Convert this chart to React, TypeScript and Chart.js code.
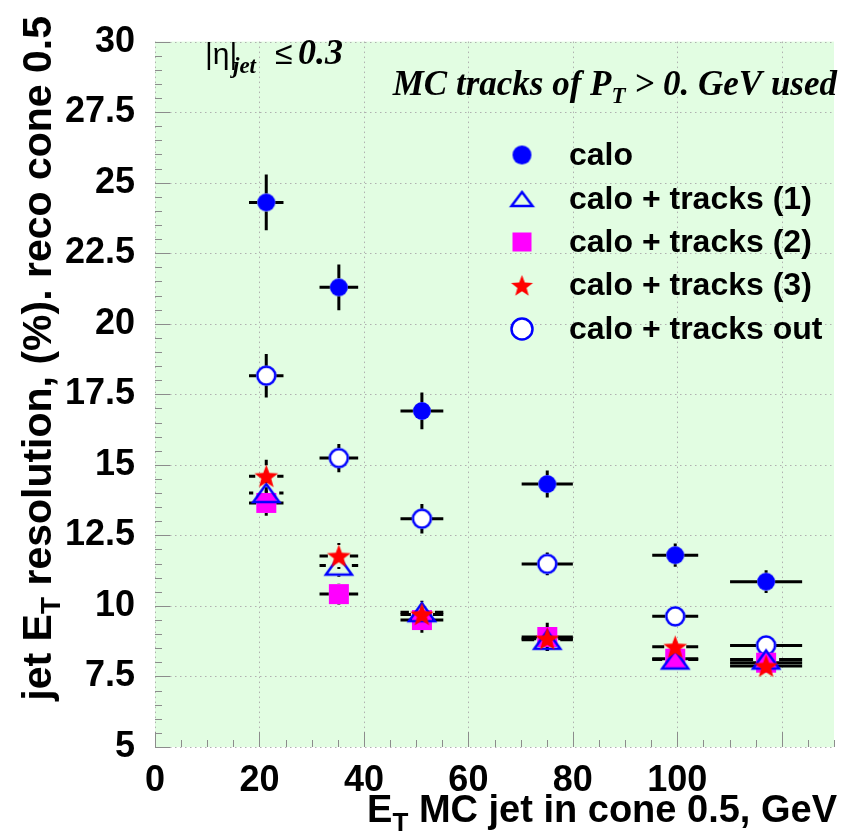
import React, { useEffect, useRef } from "react";
import { Chart, registerables } from "chart.js";

Chart.register(...registerables);

// ---------- data ----------
const energies = [21.3, 35.2, 51.1, 75.1, 99.6, 117.0];
const energyErr = [3.3, 3.7, 4.1, 4.9, 4.4, 6.9];

const calo = [24.3, 21.29, 16.91, 14.32, 11.8, 10.86];
const caloErr = [0.99, 0.81, 0.65, 0.48, 0.41, 0.4];

const tracks1 = [14.0, 11.43, 9.78, 8.8, 8.1, 8.1];
const tracks1Err = [0.5, 0.4, 0.4, 0.4, 0.3, 0.3];

const tracks2 = [13.65, 10.42, 9.5, 8.9, 8.13, 7.99];
const tracks2Err = [0.45, 0.37, 0.45, 0.5, 0.3, 0.3];

const tracks3 = [14.6, 11.77, 9.7, 8.84, 8.55, 7.87];
const tracks3Err = [0.58, 0.46, 0.4, 0.4, 0.3, 0.3];

const tracksOut = [18.16, 15.24, 13.09, 11.49, 9.63, 8.6];
const tracksOutErr = [0.77, 0.5, 0.52, 0.4, 0.3, 0.3];

const legendLabels = [
  "calo",
  "calo + tracks (1)",
  "calo + tracks (2)",
  "calo + tracks (3)",
  "calo + tracks out",
];

const X_MIN = 0;
const X_MAX = 130;
const X_STEP = 20;
const X_MINOR = 5;
const Y_MIN = 5;
const Y_MAX = 30;
const Y_STEP = 2.5;
const Y_MINOR = 0.5;

// ---------- styles ----------
const BG = "rgb(226,253,226)";
const BLUE = "#0000ff";
const MAGENTA = "#ff00ff";
const RED = "#ff0000";
const SANS = "'Liberation Sans', Arial, Helvetica, sans-serif";
const SERIF = "'Liberation Serif', 'Times New Roman', Times, serif";

function makeCanvas(w: number, h: number, draw: (ctx: CanvasRenderingContext2D, w: number, h: number) => void) {
  const c = document.createElement("canvas");
  c.width = w;
  c.height = h;
  const ctx = c.getContext("2d")!;
  draw(ctx, w, h);
  return c;
}

function filledCircle(r: number) {
  return makeCanvas(2 * r + 2, 2 * r + 2, (ctx, w, h) => {
    ctx.fillStyle = BLUE;
    ctx.beginPath();
    ctx.arc(w / 2, h / 2, r, 0, Math.PI * 2);
    ctx.fill();
  });
}

function openCircle(r: number, lw: number) {
  const s = Math.ceil(2 * r + lw + 2);
  return makeCanvas(s, s, (ctx, w, h) => {
    ctx.fillStyle = "#ffffff";
    ctx.strokeStyle = BLUE;
    ctx.lineWidth = lw;
    ctx.beginPath();
    ctx.arc(w / 2, h / 2, r, 0, Math.PI * 2);
    ctx.fill();
    ctx.stroke();
  });
}

function openTriangle(tw: number, th: number, lw: number) {
  const W = Math.ceil(tw + lw * 3 + 2);
  const H = Math.ceil(th + lw * 3 + 2);
  return makeCanvas(W, H, (ctx, w, h) => {
    ctx.strokeStyle = BLUE;
    ctx.lineWidth = lw;
    ctx.lineJoin = "miter";
    ctx.beginPath();
    ctx.moveTo(w / 2, h / 2 - th / 2);
    ctx.lineTo(w / 2 + tw / 2, h / 2 + th / 2);
    ctx.lineTo(w / 2 - tw / 2, h / 2 + th / 2);
    ctx.closePath();
    ctx.stroke();
  });
}

function filledSquare(s: number) {
  return makeCanvas(s + 2, s + 2, (ctx) => {
    ctx.fillStyle = MAGENTA;
    ctx.fillRect(1, 1, s, s);
  });
}

function filledStar(R: number, ri: number) {
  const s = Math.ceil(2 * R + 2);
  return makeCanvas(s, s, (ctx, w, h) => {
    ctx.fillStyle = RED;
    ctx.beginPath();
    for (let k = 0; k < 10; k++) {
      const rr = k % 2 === 0 ? R : ri;
      const a = -Math.PI / 2 + (k * Math.PI) / 5;
      const px = w / 2 + rr * Math.cos(a);
      const py = h / 2 + 1 + rr * Math.sin(a);
      if (k === 0) ctx.moveTo(px, py);
      else ctx.lineTo(px, py);
    }
    ctx.closePath();
    ctx.fill();
  });
}

type Series = {
  label: string;
  values: number[];
  errs: number[];
  marker: HTMLCanvasElement;
  legendMarker: HTMLCanvasElement;
  gapX: number;
  gapY: number;
  order: number;
};

export default function App() {
  const ref = useRef<HTMLCanvasElement | null>(null);

  useEffect(() => {
    if (!ref.current) return;

    const series: Series[] = [
      { label: legendLabels[0], values: calo, errs: caloErr, marker: filledCircle(9), legendMarker: filledCircle(9.5), gapX: 9, gapY: 9, order: 4 },
      { label: legendLabels[1], values: tracks1, errs: tracks1Err, marker: openTriangle(26, 18, 2.5), legendMarker: openTriangle(21, 14, 2.5), gapX: 13, gapY: 10, order: 1 },
      { label: legendLabels[2], values: tracks2, errs: tracks2Err, marker: filledSquare(20), legendMarker: filledSquare(19), gapX: 10, gapY: 10, order: 2 },
      { label: legendLabels[3], values: tracks3, errs: tracks3Err, marker: filledStar(12.5, 5.2), legendMarker: filledStar(11.5, 4.8), gapX: 11, gapY: 11, order: 0 },
      { label: legendLabels[4], values: tracksOut, errs: tracksOutErr, marker: openCircle(9, 2.5), legendMarker: openCircle(10.5, 2.5), gapX: 10, gapY: 10, order: 3 },
    ];

    const decor = {
      id: "decor",
      beforeDatasetsDraw(chart: any) {
        const { ctx, chartArea: a, scales } = chart;
        const xs = scales.x;
        const ys = scales.y;
        ctx.save();
        ctx.fillStyle = BG;
        ctx.fillRect(a.left, a.top, a.right - a.left, a.bottom - a.top);

        // dotted grid
        ctx.strokeStyle = "#b0b0b0";
        ctx.lineWidth = 1;
        ctx.setLineDash([1.5, 3.5]);
        for (let v = X_MIN; v <= 120 + 1e-9; v += X_STEP) {
          const px = Math.round(xs.getPixelForValue(v)) + 0.5;
          ctx.beginPath();
          ctx.moveTo(px, a.top);
          ctx.lineTo(px, a.bottom);
          ctx.stroke();
        }
        for (let v = Y_MIN; v <= Y_MAX + 1e-9; v += Y_STEP) {
          const py = Math.round(ys.getPixelForValue(v)) + 0.5;
          ctx.beginPath();
          ctx.moveTo(a.left, py);
          ctx.lineTo(a.right, py);
          ctx.stroke();
        }
        ctx.setLineDash([]);

        // tick marks
        ctx.strokeStyle = "#8c8c8c";
        ctx.lineWidth = 1;
        for (let v = Y_MIN; v <= Y_MAX + 1e-9; v += Y_MINOR) {
          const major = Math.abs(v / Y_STEP - Math.round(v / Y_STEP)) < 1e-6;
          const py = Math.round(ys.getPixelForValue(v)) + 0.5;
          ctx.beginPath();
          ctx.moveTo(a.left, py);
          ctx.lineTo(a.left + (major ? 15 : 7), py);
          ctx.stroke();
        }
        for (let v = X_MIN; v <= X_MAX + 1e-9; v += X_MINOR) {
          const major = Math.abs(v / X_STEP - Math.round(v / X_STEP)) < 1e-6;
          const px = Math.round(xs.getPixelForValue(v)) + 0.5;
          ctx.beginPath();
          ctx.moveTo(px, a.bottom);
          ctx.lineTo(px, a.bottom - (major ? 15 : 7));
          ctx.stroke();
        }

        // error bars
        ctx.strokeStyle = "#000000";
        ctx.lineWidth = 3;
        ctx.lineCap = "butt";
        for (const s of series) {
          for (let i = 0; i < energies.length; i++) {
            const px = xs.getPixelForValue(energies[i]);
            const py = ys.getPixelForValue(s.values[i]);
            const xl = xs.getPixelForValue(energies[i] - energyErr[i]);
            const xr = xs.getPixelForValue(energies[i] + energyErr[i]);
            const yt = ys.getPixelForValue(s.values[i] + s.errs[i]);
            const yb = ys.getPixelForValue(s.values[i] - s.errs[i]);
            ctx.beginPath();
            if (px - s.gapX > xl) {
              ctx.moveTo(xl, py);
              ctx.lineTo(px - s.gapX, py);
              ctx.moveTo(px + s.gapX, py);
              ctx.lineTo(xr, py);
            }
            if (py - s.gapY > yt) {
              ctx.moveTo(px, yt);
              ctx.lineTo(px, py - s.gapY);
              ctx.moveTo(px, py + s.gapY);
              ctx.lineTo(px, yb);
            }
            ctx.stroke();
          }
        }
        ctx.restore();
      },
      afterDatasetsDraw(chart: any) {
        const { ctx } = chart;
        ctx.save();

        // legend
        const rows = [155, 199, 242, 285.5, 329];
        ctx.font = `bold 32px ${SANS}`;
        ctx.fillStyle = "#000";
        ctx.textAlign = "left";
        ctx.textBaseline = "middle";
        series.forEach((s, i) => {
          const m = s.legendMarker;
          ctx.drawImage(m, 522 - m.width / 2, rows[i] - m.height / 2);
          ctx.fillText(s.label, 569, rows[i] + 1);
        });

        // |eta|_jet <= 0.3
        ctx.textBaseline = "alphabetic";
        ctx.font = `30px ${SANS}`;
        ctx.fillText("|η|", 205, 64);
        ctx.font = `italic bold 23px ${SERIF}`;
        ctx.fillText("jet", 233, 73);
        ctx.font = `32px ${SANS}`;
        ctx.fillText("≤", 275, 64);
        ctx.font = `italic bold 36px ${SERIF}`;
        ctx.fillText("0.3", 298, 64);

        // MC tracks of P_T > 0. GeV used
        const mainFont = `italic bold 35px ${SERIF}`;
        const subFont = `italic bold 23px ${SERIF}`;
        const p1 = "MC tracks of P";
        const p2 = "T";
        const p3 = " > 0. GeV used";
        ctx.font = mainFont;
        const w1 = ctx.measureText(p1).width;
        const w3 = ctx.measureText(p3).width;
        ctx.font = subFont;
        const w2 = ctx.measureText(p2).width;
        let sx = 837 - (w1 + w2 + w3);
        ctx.font = mainFont;
        ctx.fillText(p1, sx, 95);
        sx += w1;
        ctx.font = subFont;
        ctx.fillText(p2, sx, 103);
        sx += w2;
        ctx.font = mainFont;
        ctx.fillText(p3, sx, 95);

        // x title
        const tFont = `bold 38px ${SANS}`;
        const tSub = `bold 26px ${SANS}`;
        const xa = "E";
        const xb = "T";
        const xc = " MC jet in cone 0.5, GeV";
        ctx.font = tFont;
        const xaW = ctx.measureText(xa).width;
        const xcW = ctx.measureText(xc).width;
        ctx.font = tSub;
        const xbW = ctx.measureText(xb).width;
        let tx = 837 - (xaW + xbW + xcW);
        ctx.font = tFont;
        ctx.fillText(xa, tx, 822);
        tx += xaW;
        ctx.font = tSub;
        ctx.fillText(xb, tx, 831);
        tx += xbW;
        ctx.font = tFont;
        ctx.fillText(xc, tx, 822);

        // y title (rotated)
        const yFont = `bold 41px ${SANS}`;
        const ySub = `bold 28px ${SANS}`;
        const ya = "jet E";
        const yb = "T";
        const yc = " resolution, (%). reco cone 0.5";
        ctx.font = yFont;
        const yaW = ctx.measureText(ya).width;
        const ycW = ctx.measureText(yc).width;
        ctx.font = ySub;
        const ybW = ctx.measureText(yb).width;
        ctx.translate(51, 16);
        ctx.rotate(-Math.PI / 2);
        let ty = -(yaW + ybW + ycW);
        ctx.font = yFont;
        ctx.fillText(ya, ty, 0);
        ty += yaW;
        ctx.font = ySub;
        ctx.fillText(yb, ty, 9);
        ty += ybW;
        ctx.font = yFont;
        ctx.fillText(yc, ty, 0);

        ctx.restore();
      },
    };

    const datasets = series.map((s) => ({
      label: s.label,
      data: energies.map((e, i) => ({ x: e, y: s.values[i] })),
      pointStyle: s.marker,
      pointRadius: 10,
      pointHoverRadius: 10,
      showLine: false,
      order: s.order,
    }));

    const chart = new Chart(ref.current, {
      type: "scatter",
      data: { datasets },
      plugins: [decor],
      options: {
        animation: false,
        responsive: false,
        events: [],
        layout: { padding: { top: 20, right: 9, left: 0, bottom: 0 } },
        plugins: { legend: { display: false }, tooltip: { enabled: false } },
        scales: {
          x: {
            type: "linear",
            min: X_MIN,
            max: X_MAX,
            afterFit: (s: any) => {
              s.height = 88;
            },
            grid: { display: false, drawTicks: false },
            border: { display: false },
            ticks: {
              stepSize: X_STEP,
              padding: 12,
              maxRotation: 0,
              autoSkip: false,
              color: "#000",
              font: { family: SANS, size: 36, weight: "bold" },
              callback: (v: any) => (Number(v) % X_STEP === 0 && Number(v) <= 120 ? String(v) : ""),
            },
          },
          y: {
            type: "linear",
            min: Y_MIN,
            max: Y_MAX,
            afterFit: (s: any) => {
              s.width = 155;
            },
            grid: { display: false, drawTicks: false },
            border: { display: false },
            ticks: {
              stepSize: Y_STEP,
              padding: 20,
              autoSkip: false,
              color: "#000",
              font: { family: SANS, size: 36, weight: "bold" },
              callback: (v: any) => {
                const n = Number(v);
                return Number.isInteger(n) ? String(n) : n.toFixed(1);
              },
            },
          },
        },
      } as any,
    });

    return () => chart.destroy();
  }, []);

  return (
    <div style={{ position: "absolute", left: 0, top: 0, width: 846, height: 835, background: "#fff" }}>
      <canvas ref={ref} width={846} height={835} style={{ display: "block" }} />
    </div>
  );
}
